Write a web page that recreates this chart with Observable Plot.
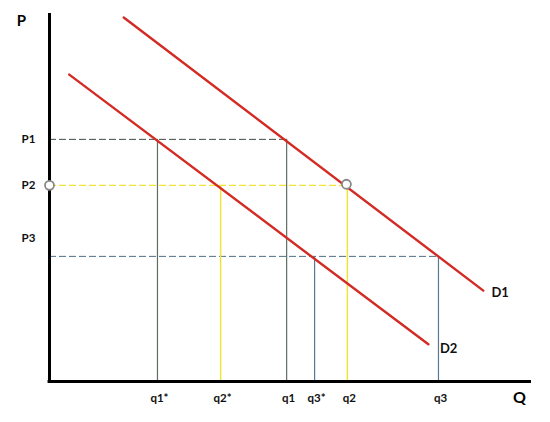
<!DOCTYPE html>
<html>
<head>
<meta charset="utf-8">
<script src="https://cdn.jsdelivr.net/npm/d3@7"></script>
<script src="https://cdn.jsdelivr.net/npm/@observablehq/plot@0.6"></script>
<style>
  html, body { margin: 0; padding: 0; background: #fff; }
  #chart svg { display: block; }
</style>
</head>
<body>
<div id="chart"></div>
<script>
// Quantities (Q axis, 0..100) and prices (P axis, 0..100)
const qNames = ["q1*", "q2*", "q1", "q3*", "q2", "q3"];
const qValues = [22.4, 35.5, 49.2, 55.0, 61.8, 80.7];
const qPrice = [65.8, 53.3, 65.8, 34.0, 53.3, 34.0];   // price each q drops from
const qGroup = ["P1", "P2", "P1", "P3", "P2", "P3"];

const pNames = ["P1", "P2", "P3"];
const pValues = [65.8, 53.3, 34.0];
const pLabelAt = [65.8, 53.3, 39.0];                     // where the tick labels sit
const pReach = [49.2, 61.8, 80.7];                       // Q where each dashed line ends

const d1Q = [15.4, 90.0], d1P = [98.9, 24.7];
const d2Q = [4.1, 78.6],  d2P = [83.4, 10.1];
const demandNames = ["D1", "D2"];
const demandLabelQ = [93.5, 82.8];
const demandLabelP = [24.2, 8.8];

const circleQ = [0, 61.6];
const circleP = [53.3, 53.6];

const hColors = {P1: "#3f4d42", P2: "#f0e43a", P3: "#4f6f86"};
const vColors = {P1: "#5d6e60", P2: "#f0e43a", P3: "#557a94"};

const demand = [
  ...d1Q.map((q, i) => ({q, p: d1P[i], curve: "D1"})),
  ...d2Q.map((q, i) => ({q, p: d2P[i], curve: "D2"}))
];
const hLines = pNames.map((n, i) => ({name: n, p: pValues[i], reach: pReach[i], labelAt: pLabelAt[i]}));
const vLines = qNames.map((n, i) => ({name: n, q: qValues[i], p: qPrice[i], group: qGroup[i]}));
const dLabels = demandNames.map((n, i) => ({name: n, q: demandLabelQ[i], p: demandLabelP[i]}));
const circles = circleQ.map((q, i) => ({q, p: circleP[i]}));

const font = "Lato, 'Open Sans', sans-serif";

const chart = Plot.plot({
  width: 550,
  height: 422,
  marginLeft: 49,
  marginRight: 19,
  marginTop: 13,
  marginBottom: 41,
  x: {domain: [0, 100], axis: null},
  y: {domain: [0, 100], axis: null},
  style: {fontFamily: font, background: "#fff"},
  marks: [
    // dashed horizontal price lines
    Plot.ruleY(hLines, {y: "p", x1: 0, x2: "reach", stroke: d => hColors[d.name], strokeWidth: d => d.name === "P2" ? 1.4 : 1, strokeDasharray: "7,3"}),
    // vertical quantity lines
    Plot.ruleX(vLines, {x: "q", y1: 0, y2: "p", stroke: d => vColors[d.group], strokeWidth: d => d.group === "P2" ? 1.5 : 1.2}),
    // demand curves
    Plot.line(demand, {x: "q", y: "p", z: "curve", stroke: "#d42a24", strokeWidth: 2.4}),
    // axes
    Plot.ruleX([0], {y1: 0, y2: 100, stroke: "#000", strokeWidth: 3}),
    Plot.ruleY([0], {x1: -0.3, x2: 100, stroke: "#000", strokeWidth: 3}),
    // circles
    Plot.dot(circles, {x: "q", y: "p", r: 4.5, stroke: "#888", strokeWidth: 1.8, fill: "#fff"}),
    // tick labels
    Plot.text(hLines, {x: 0, y: "labelAt", text: "name", dx: -21, fontSize: 11.5, fontWeight: "bold", fill: "#111"}),
    Plot.text(vLines, {x: "q", y: 0, text: "name", dy: 17, dx: 2, fontSize: 11.5, fontWeight: "bold", fill: "#111"}),
    // demand labels
    Plot.text(dLabels, {x: "q", y: "p", text: "name", fontSize: 13, fontWeight: "bold", fill: "#111"}),
    // axis titles
    Plot.text(["P"], {x: 0, y: 98, text: d => d, dx: -28, fontSize: 15, fontWeight: "bold", fill: "#000"}),
    Plot.text(["Q"], {x: 100, y: 0, text: d => d, dx: -12, dy: 16, fontSize: 16, fontWeight: "bold", fill: "#000"})
  ]
});
document.getElementById("chart").appendChild(chart);
</script>
</body>
</html>
